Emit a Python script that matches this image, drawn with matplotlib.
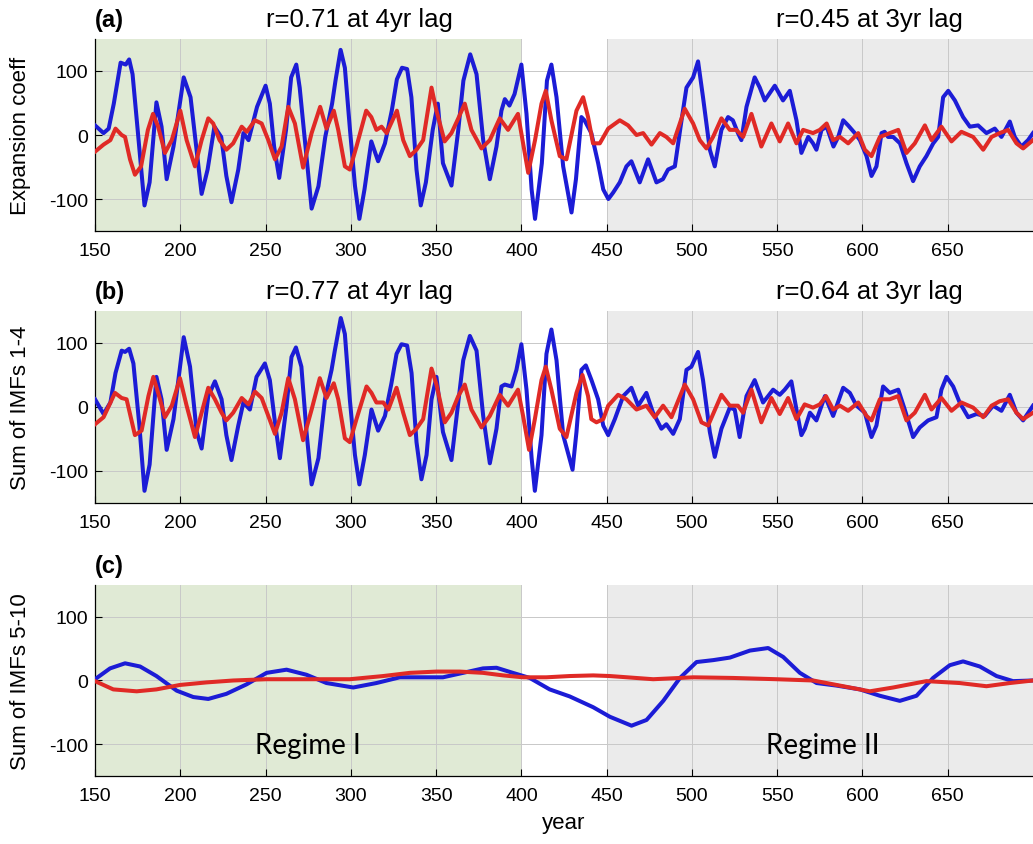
import matplotlib
matplotlib.use("Agg")
import matplotlib.pyplot as plt

plt.rcParams['font.family'] = ['Liberation Sans', 'DejaVu Sans']
plt.rcParams['axes.unicode_minus'] = False

# ---- data (year, value) ----
# panel (a): expansion coefficients
a_blue_yr = [150, 155, 158, 161, 165, 168, 170, 172, 175, 179, 182, 186, 189, 192, 196, 202, 206, 210,
             212.5, 216, 220, 224, 227, 230, 234, 237, 240, 245, 250, 252.5, 255, 258, 262, 265, 268, 270,
             274, 277, 281, 285, 289, 291, 294, 296.5, 299.5, 302.4, 305, 308, 312, 316, 320, 324, 327,
             330, 333, 335.5, 338.5, 341, 344, 348, 351, 354, 359, 363, 366, 370, 373.7, 377.6, 381.5,
             385.4, 388.3, 390.3, 393, 396, 400, 403, 406, 408, 412, 415, 417.6, 420.6, 424.5, 429.4,
             432, 435.2, 437, 441, 445, 448, 451, 453.8, 457.7, 461.6, 464.5, 469.4, 474.3, 479.2, 483,
             486, 490, 493.9, 496.8, 500.7, 503.6, 506.5, 510.5, 513.4, 517.3, 521.2, 524, 527, 529, 532,
             536.8, 539.8, 542.7, 548.6, 553.4, 557.4, 561.3, 564.2, 568.2, 571, 573, 576, 579, 583,
             585.8, 588.7, 591.6, 595.5, 598.5, 602.4, 605.3, 608.2, 611.2, 613, 615, 618, 622, 625.8,
             629.7, 633.6, 637.5, 641.5, 644.4, 647.3, 650.3, 654.2, 659, 663, 667.8, 672.7, 677.6,
             681.5, 686.4, 689.3, 693.2, 697.1, 700]
a_blue = [15, 3, 10, 49, 113, 110, 118, 95, 8, -110, -74, 51, 13, -69, -18, 90, 59, -33,
          -92, -54, 13, -3, -64, -105, -54, 3, -8, 44, 77, 49, -18, -67, 8, 90, 110, 74,
          -33, -115, -80, -3, 49, 85, 133, 105, 8, -79, -131, -85, -10, -41, -13, 38, 87,
          105, 103, 59, -54, -110, -74, 8, 49, -44, -79, 8, 85, 126, 95, -8, -69,
          -18, 38, 56, 46, 64, 110, 33, -85, -131, -44, 85, 110, 59, -49, -121,
          -69, 28, 23, 3, -44, -85, -100, -90, -74, -49, -41, -74, -38, -74, -69,
          -54, -49, 23, 74, 90, 115, 59, -23, -49, 8, 28, 23, 3, -8, 44,
          90, 74, 54, 77, 54, 69, 23, -28, -3, -13, -23, 8, 13, -18,
          -3, 23, 15, 3, -8, -33, -64, -49, 3, 5, -3, -3, -13, -44,
          -72, -49, -33, -13, -3, 59, 69, 54, 28, 13, 15, 3, 10,
          -3, 21, -3, -18, -8, 3]

a_red_yr = [150, 155, 159, 162, 165.6, 167.6, 170.5, 173.4, 177, 181, 184, 187, 191, 195, 200, 203.7,
            208.6, 212.5, 216.4, 219.3, 223, 227, 231, 236, 239, 243.8, 247.7, 251.6, 255.5, 259.4,
            263.3, 267.2, 272, 277, 282, 285.7, 290, 292.6, 296.5, 299.4, 303.3, 309, 312, 315, 318,
            321, 327, 330.7, 334.6, 338.5, 342.4, 347.3, 350.2, 355, 359, 363, 366.8, 370.7, 376.6,
            381.5, 387.3, 392.2, 398, 401, 404, 408, 411.8, 414.3, 417.6, 422.5, 426.4, 432.3, 436.2,
            439.1, 442, 446, 450.9, 457.7, 462.6, 467.5, 471.4, 476.3, 481.2, 485, 489, 495.8, 500.7,
            504.6, 508.5, 512.4, 517.3, 522.2, 526, 530, 534.9, 540.7, 546.6, 551.5, 556.4, 561.3,
            565.2, 571, 575, 579, 582.8, 586.8, 591.6, 597.5, 601.4, 605.3, 610.2, 616, 621, 625.8,
            630.7, 636.6, 640.5, 646.3, 652.2, 658, 664.9, 670.8, 675.7, 680.5, 685.4, 690.3, 694.2, 700]
a_red = [-26, -15, -8, 10, 0, -3, -38, -62, -49, 8, 33, 13, -28, -8, 38, -8,
         -49, -8, 26, 18, -8, -23, -13, 13, 5, 23, 18, -8, -38, -18,
         44, 18, -51, 3, 44, 10, 38, 8, -49, -54, -18, 38, 28, 8, 13,
         3, 38, -8, -33, -23, -8, 74, 38, -10, 3, 26, 49, 8, -21,
         -8, 26, 8, 33, -13, -59, -8, 49, 69, 23, -33, -38, 38, 59,
         28, -13, -13, 10, 23, 15, 0, 3, -15, 3, -3, -13, 41, 18,
         -8, -21, -3, 26, 8, 8, -3, 33, -18, 18, -10, 18, -13,
         8, 3, 8, 18, -8, -3, -13, 3, -23, -33, -3, 3, 8, -28,
         -13, 15, -8, 13, -10, 5, -3, -23, -3, 3, 8, -13, -21, -8]

# panel (b): sum of IMFs 1-4
b_blue_yr = [150, 155, 159, 162, 165.6, 167.6, 170, 172.5, 176, 179, 182, 186, 189, 192, 196, 202,
             205.7, 209.6, 212.5, 216.4, 220.3, 224.2, 227, 230, 234, 237, 240.8, 244.7, 249.6, 252.5,
             255.5, 258.4, 262.3, 265.2, 267.8, 271, 274, 277, 281, 284.8, 288.7, 290.6, 294.1, 296.5,
             299.4, 302.4, 305, 308.2, 312.1, 316, 320, 323.8, 326.8, 329.7, 333, 335.6, 338.5, 341.4,
             344.4, 347.3, 350.2, 354, 359, 363, 365.9, 369.8, 373.7, 377.6, 381.5, 385.4, 388.3,
             390.3, 394.2, 397.1, 400, 403, 406, 407.9, 411.8, 414.7, 417.6, 420.6, 424.5, 430,
             432.3, 435.2, 437.8, 441.1, 445, 448, 450.9, 454.8, 459.7, 464.5, 468.5, 473.3, 477.2,
             482.1, 485, 489, 492.9, 496.8, 499.7, 503.6, 506.5, 510.5, 513.4, 517.3, 522.2, 525.1,
             528, 532, 536.8, 541.7, 544.7, 547.6, 551.5, 554.4, 558.3, 561.3, 564.2, 566.2, 569.2,
             573, 578, 582.8, 588.7, 592.6, 596.5, 601.4, 605.3, 608.2, 612.1, 616, 621, 624.8, 629.7,
             633.6, 638.5, 643.4, 646.3, 649.3, 653.2, 657, 662, 666.9, 671.7, 676.6, 681.5, 686.4,
             690.3, 694.2, 700]
b_blue = [12, -11, 7, 53, 88, 86, 91, 68, -29, -131, -90, 47, 12, -67, -19, 109,
          63, -39, -65, 17, 40, 12, -44, -83, -29, 7, -4, 47, 68, 42,
          -24, -80, 2, 78, 93, 63, -39, -121, -80, 12, 58, 88, 139, 114,
          12, -75, -121, -75, -4, -37, -14, 37, 83, 98, 96, 53, -55, -113,
          -75, 12, 47, -39, -83, 7, 73, 111, 88, -14, -88, -34, 32,
          35, 32, 58, 98, 27, -80, -131, -44, 83, 121, 73, -44, -98,
          -39, 58, 65, 42, 12, -29, -44, -19, 17, 30, 2, 22, -9,
          -34, -27, -42, -19, 58, 63, 86, 42, -39, -78, -34, -1, -4,
          -47, 17, 42, 7, 17, 27, 19, 27, 40, -4, -44, -34, -9,
          -21, 17, -14, 30, 22, 2, -9, -47, -29, 32, 22, 27, -4, -47,
          -32, -21, -16, 27, 47, 32, 7, -16, -11, -14, 2, -6, 19,
          -9, -21, 2]

b_red_yr = [150, 155, 161.7, 165.6, 168.5, 173.4, 177.3, 181.3, 184.2, 187, 191, 195, 199.8, 203.7,
            208.6, 212.5, 216.4, 220.3, 224.2, 227, 231, 236, 240, 243.8, 247.7, 251.6, 255.5, 259.4,
            263.3, 267.2, 272, 277, 281.8, 285.7, 290, 292.6, 296.5, 299.4, 303.3, 309.2, 312.1, 315,
            319, 322, 326.8, 330.7, 334.6, 338.5, 342.4, 347.3, 350.2, 355.1, 359, 363, 366.8, 370.7,
            376.6, 381.5, 387.3, 392.2, 398, 401, 404.5, 407.9, 411.8, 414.3, 417.6, 422.5, 426.4,
            432.3, 435.8, 439.1, 441, 444, 448, 450.9, 456.7, 461.6, 467.5, 473.3, 478.2, 483.1, 488,
            495.8, 500.7, 505.6, 509.5, 517.3, 522.2, 527, 530, 534.9, 540.7, 546.6, 551.5, 556.4,
            561.3, 566.1, 571, 575, 578.6, 582.8, 586.8, 591.6, 597.5, 602.4, 605.3, 610.2, 616,
            620.9, 625.8, 630.7, 636.6, 640.5, 646.3, 652.2, 658, 664.9, 670.8, 675.7, 680.5, 685.4,
            690.3, 694.2, 700]
b_red = [-27, -16, 22, 14, 12, -44, -37, 17, 47, 22, -16, 2, 45, 2,
         -47, -9, 30, 12, -9, -21, -9, 14, 4, 24, 14, -14, -42, -9,
         45, 12, -52, -4, 45, 14, 37, 12, -49, -55, -19, 32, 22, 7,
         7, -4, 30, -9, -44, -34, -19, 60, 35, -24, -9, 17, 35, -4,
         -32, -14, 19, 2, 27, -14, -67, -19, 42, 63, 27, -34, -47,
         22, 50, 17, -19, -24, -19, 2, 19, 12, -4, 2, -16, 2, -16,
         35, 12, -24, -29, 19, 2, 2, -9, 27, -24, 14, -11, 14,
         -19, 4, -1, 4, 17, -4, 2, -6, 7, -14, -21, 12, 12,
         17, -21, -9, 19, -4, 14, -6, 7, -1, -16, 2, 9, 12,
         -9, -19, -9]

# panel (c): sum of IMFs 5-10
c_blue_yr = [150, 158.8, 167.6, 176.4, 186, 197.9, 207.6, 216.4, 227, 238.9, 250.6, 262.3, 274, 285.7,
             301.4, 315, 328.7, 342.4, 354, 365.8, 377.5, 385.4, 395, 404.9, 416.6, 428.3, 442.1,
             451.9, 464.6, 473.4, 483.2, 493, 502.7, 512.5, 522.3, 534, 544.7, 553.5, 563.3, 573.1,
             584.8, 598.5, 610.2, 621.9, 631.7, 641.4, 651.2, 659, 668.8, 678.6, 688.3, 700]
c_blue = [2, 19, 27, 22, 7, -16, -26, -29, -21, -6, 12, 17, 9, -4,
          -11, -4, 5, 5, 5, 12, 19, 20, 12, 4, -14, -25, -42,
          -57, -71, -62, -32, 4, 29, 32, 36, 47, 51, 37, 12, -4,
          -8, -14, -24, -32, -24, 4, 24, 30, 22, 7, -1, 0]

c_red_yr = [150, 160.7, 174.4, 186, 199.8, 215.4, 231, 250.6, 274, 299.4, 319, 334.6, 350.2, 363.9,
            377.5, 389.3, 401, 414.6, 428.3, 442.1, 451.9, 477.3, 500.8, 524.2, 549.6, 571.1, 588.7,
            604.3, 618, 637.5, 657, 672.7, 686.4, 700]
c_red = [-1, -14, -17, -14, -7, -3, 0, 2, 2, 2, 7, 12, 14, 14,
         12, 8, 5, 5, 7, 8, 7, 2, 5, 4, 2, 0, -9,
         -17, -11, -1, -4, -9, -4, 0]

panel_tags = ['(a)', '(b)', '(c)']
ylabels = ['Expansion coeff', 'Sum of IMFs 1-4', 'Sum of IMFs 5-10']
corr_left = ['r=0.71 at 4yr lag', 'r=0.77 at 4yr lag', '']
corr_right = ['r=0.45 at 3yr lag', 'r=0.64 at 3yr lag', '']
xticks = [150, 200, 250, 300, 350, 400, 450, 500, 550, 600, 650]
yticks = [-100, 0, 100]

series = [(a_blue_yr, a_blue, a_red_yr, a_red),
          (b_blue_yr, b_blue, b_red_yr, b_red),
          (c_blue_yr, c_blue, c_red_yr, c_red)]

BLUE = '#1c1cd6'
RED = '#e02a26'
GREEN_BG = '#e0ead5'
GREY_BG = '#ebebeb'

fig = plt.figure(figsize=(10.33, 8.45), dpi=100)
# axes boxes: left, bottom, width, height (figure fractions)
boxes = [[0.092, 0.7254, 0.908, 0.2273],
         [0.092, 0.4036, 0.908, 0.2272],
         [0.092, 0.0805, 0.908, 0.2260]]

for i, box in enumerate(boxes):
    ax = fig.add_axes(box)
    byr, bval, ryr, rval = series[i]
    ax.axvspan(150, 400, color=GREEN_BG, zorder=0, lw=0)
    ax.axvspan(450, 700, color=GREY_BG, zorder=0, lw=0)
    ax.plot(byr, bval, color=BLUE, lw=2.9, zorder=3, solid_joinstyle='round')
    ax.plot(ryr, rval, color=RED, lw=2.9, zorder=4, solid_joinstyle='round')

    ax.set_xlim(150, 700)
    ax.set_ylim(-150, 150)
    ax.set_xticks(xticks)
    ax.set_yticks(yticks)
    ax.tick_params(direction='in', length=5, labelsize=14, width=0.8)
    ax.tick_params(axis='x', pad=8)
    ax.tick_params(axis='y', pad=5)
    ax.grid(True, color='#c8c8c8', lw=0.7, zorder=1)
    ax.set_axisbelow(True)
    for s in ['top', 'right']:
        ax.spines[s].set_visible(False)
    ax.spines['left'].set_linewidth(0.9)
    ax.spines['bottom'].set_linewidth(0.9)
    ax.set_ylabel(ylabels[i], fontsize=16)
    ax.yaxis.set_label_coords(-0.068, 0.5)

    ax.text(0.0, 1.066, panel_tags[i], transform=ax.transAxes, fontsize=17,
            fontweight='bold', ha='left', va='baseline')
    if corr_left[i]:
        ax.text(305, 1.066, corr_left[i], transform=ax.get_xaxis_transform(),
                fontsize=18.5, ha='center', va='baseline')
        ax.text(604, 1.066, corr_right[i], transform=ax.get_xaxis_transform(),
                fontsize=18.5, ha='center', va='baseline')
    if i == 2:
        ax.set_xlabel('year', fontsize=16, labelpad=6)
        ax.text(275, -102, 'Regime I', fontsize=20, family=['Lato', 'DejaVu Sans'],
                ha='center', va='center')
        ax.text(577, -102, 'Regime II', fontsize=20, family=['Lato', 'DejaVu Sans'],
                ha='center', va='center')

fig.savefig('out.png', dpi=100)
